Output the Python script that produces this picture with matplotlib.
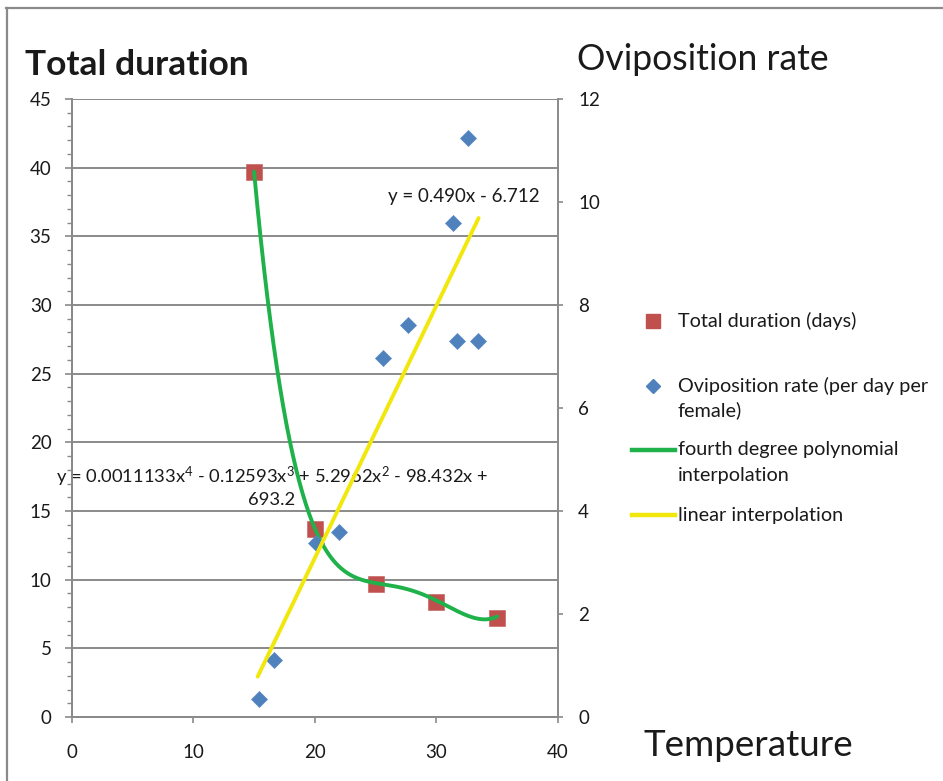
import numpy as np
import matplotlib
matplotlib.use("Agg")
import matplotlib.pyplot as plt
from matplotlib.lines import Line2D
from matplotlib.ticker import MultipleLocator

plt.rcParams['font.family'] = ['Lato', 'DejaVu Sans']
plt.rcParams['mathtext.fontset'] = 'custom'
plt.rcParams['mathtext.rm'] = 'Lato'
plt.rcParams['mathtext.it'] = 'Lato'

# total duration (days) at each rearing temperature
temps_dur = [15, 20, 25, 30, 35]
total_duration = [39.7, 13.7, 9.7, 8.4, 7.2]

# oviposition rate (per day per female)
temps_ovi = [15.4, 16.6, 20.1, 22.0, 25.6, 27.7, 31.4, 31.7, 32.6, 33.4]
ovi_rate = [0.35, 1.11, 3.37, 3.60, 6.98, 7.61, 9.59, 7.30, 11.24, 7.30]

# trendline coefficients, highest power first
poly_coef = [0.0011133, -0.12593, 5.2962, -98.432, 693.2]
lin_coef = [0.490, -6.712]

W, H = 943, 781
GRID = '#8a8a8a'
TXT = '#1a1a1a'


def px(x, y):
    # pixel position (from top-left) -> figure fraction
    return x / W, 1 - y / H


fig = plt.figure(figsize=(W / 100, H / 100), dpi=100)
ax = fig.add_axes([71.7 / W, 1 - 717 / H, (558 - 71.7) / W, (717 - 99) / H])
ax2 = ax.twinx()

# primary axis: total duration + 4th degree polynomial
ax.plot(temps_dur, total_duration, 's', color='#c0504d', markersize=11.5,
        markeredgecolor='#c86a67', markeredgewidth=0.5, zorder=3)
xs = np.linspace(min(temps_dur), max(temps_dur), 300)
ax.plot(xs, np.polyval(poly_coef, xs), color='#1fb14a', lw=2.8, zorder=4,
        solid_capstyle='round')

# secondary axis: oviposition rate + linear fit
ax2.plot(temps_ovi, ovi_rate, 'D', color='#4f81bd', markersize=8.5,
         markeredgecolor='#5a8ac4', markeredgewidth=0.5, zorder=3)
xl = np.array([min(temps_ovi) - 0.1, max(temps_ovi) + 0.07])
ax2.plot(xl, np.polyval(lin_coef, xl), color='#f2e70a', lw=2.8, zorder=4,
         solid_capstyle='round')

ax.set_xlim(0, 40)
ax.set_ylim(0, 45)
ax2.set_ylim(0, 12)
ax.xaxis.set_major_locator(MultipleLocator(10))
ax.yaxis.set_major_locator(MultipleLocator(5))
ax.yaxis.set_minor_locator(MultipleLocator(1))
ax2.yaxis.set_major_locator(MultipleLocator(2))

ax.grid(axis='y', which='major', color=GRID, lw=1.4)
ax.set_axisbelow(True)

for a in (ax, ax2):
    for s in a.spines.values():
        s.set_color(GRID)
        s.set_linewidth(1.4)
    a.spines['top'].set_visible(False)
ax.spines['right'].set_visible(False)

ax.tick_params(axis='y', which='major', length=5, width=1.2, color=GRID,
               labelsize=13.5, labelcolor=TXT, pad=9.5)
ax.tick_params(axis='y', which='minor', length=3.3, width=1.0, color=GRID)
ax.tick_params(axis='x', length=4.5, width=1.2, color=GRID, labelsize=13.5,
               labelcolor=TXT, pad=15)
ax2.tick_params(axis='y', length=3.5, width=1.2, color=GRID, labelsize=13.5,
                labelcolor=TXT, pad=11)

# trendline equations
ax.text(32.26, 37.87, 'y = 0.490x - 6.712', ha='center', va='center',
        fontsize=13.5, color=TXT, zorder=6)
ax.text(16.45, 16.79,
        'y = 0.0011133x$^4$ - 0.12593x$^3$ + 5.2962x$^2$ - 98.432x +\n693.2',
        ha='center', va='center', multialignment='center', fontsize=13.2,
        color=TXT, linespacing=1.2, zorder=6)

# axis titles
fig.text(*px(137, 65), 'Total duration', ha='center', va='center',
         fontsize=25.5, fontweight='bold', color=TXT)
fig.text(*px(703, 60), 'Oviposition rate', ha='center', va='center',
         fontsize=25.6, color=TXT)
fig.text(*px(748, 746), 'Temperature', ha='center', va='center',
         fontsize=26.5, color=TXT)

# legend, laid out by hand so the handles sit on the first text line
lx, tx = 653, 678
fig.add_artist(Line2D(*zip(px(lx, 320.7)), marker='s', color='#c0504d',
                      markersize=10, lw=0))
fig.add_artist(Line2D(*zip(px(lx, 386)), marker='D', color='#4f81bd',
                      markersize=7.5, lw=0))
for y, c in ((450, '#1fb14a'), (515, '#f2e70a')):
    fig.add_artist(Line2D([px(631.7, y)[0], px(675, y)[0]],
                          [px(631.7, y)[1]] * 2, color=c, lw=3.2))
legend_lines = [
    (320.7, 'Total duration (days)'),
    (386, 'Oviposition rate (per day per'),
    (410, 'female)'),
    (450, 'fourth degree polynomial'),
    (476, 'interpolation'),
    (515, 'linear interpolation'),
]
for y, s in legend_lines:
    fig.text(*px(tx, y), s, ha='left', va='center', fontsize=14.3, color=TXT)

# chart frame edges
fig.add_artist(Line2D([px(6, 8)[0], 1], [px(6, 8)[1]] * 2, color=GRID, lw=1.6))
fig.add_artist(Line2D([px(7, 8)[0]] * 2, [px(7, 8)[1], 0], color=GRID, lw=1.6))

fig.savefig('out.png', dpi=100)
